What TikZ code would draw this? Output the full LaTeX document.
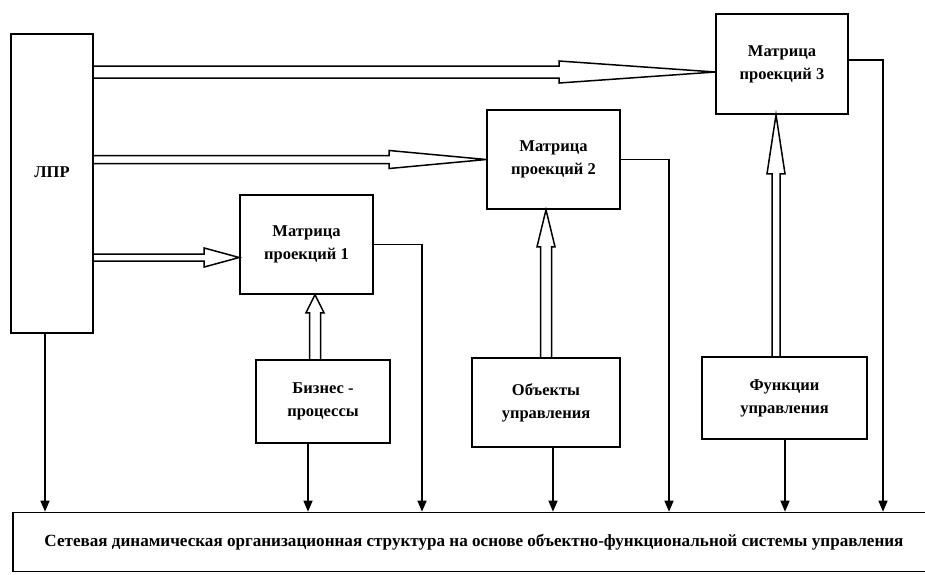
\documentclass[tikz,border=0pt]{standalone}
\usepackage{fontspec}
\setmainfont{Liberation Serif}
\usetikzlibrary{arrows.meta,calc}
\newcommand\harrow[5]{\draw[blk] let \p1=(#1), \p2=(#2) in (\x1,\y2+#4) -- (\x2-#3,\y2+#4) -- (\x2-#3,\y2+#5) -- (\x2,\y2) -- (\x2-#3,\y2-#5) -- (\x2-#3,\y2-#4) -- (\x1,\y2-#4);}
\newcommand\varrow[5]{\draw[blk] let \p1=(#1), \p2=(#2) in (\x1+#4,\y1) -- (\x1+#4,\y2-#3) -- (\x1+#5,\y2-#3) -- (\x1,\y2) -- (\x1-#5,\y2-#3) -- (\x1-#4,\y2-#3) -- (\x1-#4,\y1);}
\begin{document}
\begin{tikzpicture}[x=1pt, y=-1pt, box/.style={draw, line width=1.6pt, rectangle, align=center, inner sep=0pt, font=\fontsize{16.5}{23}\selectfont\bfseries}, blk/.style={line width=1.5pt, line join=miter}, link/.style={line width=1.4pt, -{Triangle[length=11pt,width=9pt]}}]
	\useasboundingbox (0,0) rectangle (925,574);
	\node[box, minimum width=82pt, minimum height=299pt] (lpr) at (52,183.5) {\raisebox{23pt}{ЛПР}};
	\node[box, minimum width=133pt, minimum height=99pt] (m1) at (306.5,244.5) {Матрица\\проекций 1};
	\node[box, minimum width=133pt, minimum height=99pt] (m2) at (553.5,159.5) {Матрица\\проекций 2};
	\node[box, minimum width=132pt, minimum height=100pt] (m3) at (782,64) {Матрица\\проекций 3};
	\node[box, minimum width=134pt, minimum height=83pt] (bp) at (323,401.5) {Бизнес -\\процессы};
	\node[box, minimum width=148pt, minimum height=89pt] (ou) at (546,402.5) {Объекты\\управления};
	\node[box, minimum width=165pt, minimum height=82pt] (fu) at (784.5,398) {Функции\\управления};
	\node[box, minimum width=922pt, minimum height=59pt, font=\fontsize{17.1}{23}\selectfont\bfseries] (net) at (474,542) {Сетевая динамическая организационная структура на основе объектно-функциональной системы управления};
	\harrow{lpr.east}{[yshift=-8pt]m3.west}{156pt}{6pt}{11pt}
	\harrow{lpr.east}{m2.west}{97pt}{4pt}{9pt}
	\harrow{lpr.east}{[yshift=-13pt]m1.west}{35pt}{3.5pt}{9.5pt}
	\varrow{[xshift=-8pt]bp.north}{m1.south}{18pt}{5.5pt}{9pt}
	\varrow{ou.north}{m2.south}{37pt}{5.5pt}{9pt}
	\varrow{[xshift=-8.5pt]fu.north}{m3.south}{59pt}{4pt}{9pt}
	\coordinate (k1) at (422,0);
	\coordinate (k2) at (669,0);
	\coordinate (k3) at (883,0);
	\coordinate (d0) at ([xshift=-7pt]lpr.south);
	\coordinate (d1) at ([xshift=-15pt]bp.south);
	\coordinate (d2) at ([xshift=7pt]ou.south);
	\coordinate (d3) at ([xshift=0.5pt]fu.south);
	\draw[link] (m1.east) -| (k1 |- net.north);
	\draw[link] (m2.east) -| (k2 |- net.north);
	\draw[link] ([yshift=4pt]m3.east) -| (k3 |- net.north);
	\foreach \d in {d0,d1,d2,d3}
		\draw[link] (\d) -- (\d |- net.north);
\end{tikzpicture}
\end{document}
